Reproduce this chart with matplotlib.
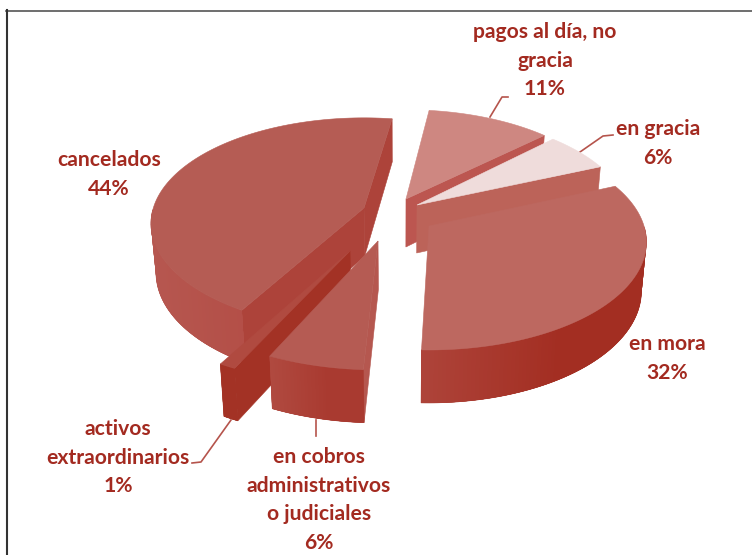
import numpy as np
import matplotlib
matplotlib.use("Agg")
import matplotlib.pyplot as plt
from matplotlib.colors import to_rgb
from matplotlib.patches import Polygon

# shares in clockwise drawing order, starting at start_angle
categories = ["en mora", "en cobros", "activos", "cancelados", "pagos", "en gracia"]
values = [32, 6, 1, 44, 11, 6]
start_angle = 23.0

label_lines = [
    ["en mora", "32%"],
    ["en cobros", "administrativos", "o judiciales", "6%"],
    ["activos", "extraordinarios", "1%"],
    ["cancelados", "44%"],
    ["pagos al día, no", "gracia", "11%"],
    ["en gracia", "6%"],
]
label_x = [667, 319, 118, 109, 545, 658]
label_y = [344, 457, 429, 160, 32, 129]
line_step = 28.6

# where each exploded slice has its tip, its size and a small turn
apex_x = [429, 378, 350, 364, 406, 417]
apex_y = [226, 241, 251, 208, 199, 205]
slice_scale = [1.0, 1.04, 1.07, 0.98, 0.97, 0.98]
slice_turn = [0.5, -1.0, -2.0, -3.0, -1.5, 0.0]

top_colors = ["#BD6860", "#B55B53", "#B04A40", "#B55C54", "#CE8781", "#EFDCDB"]
wall_colors = ["#A53024", "#B5574F", "#A33225", "#AD433A", "#BC5650", "#BC6359"]
rim_left = ["#AE443A", "#B04A40", "#A33225", "#B65750", "#BC5650", "#BC6359"]
rim_right = ["#A32E22", "#A93A30", "#A33225", "#B24A42", "#BC5650", "#BC6359"]

# leader lines
leaders = [
    [(490, 117), (502, 97), (508, 97)],
    [(580, 152), (603, 136), (613, 135)],
    [(231, 420), (201, 462), (192, 463)],
    [(316, 420), (316, 436)],
]

text_color = "#A32A20"
leader_color = "#B5544C"

RX, RY, PERSP = 215.0, 105.6, 0.148
DEPTH, DEPTH_TILT, CONVERGE, VANISH_X = 48.0, 5.0, 0.02, 400.0


def project(ax_, ay_, scale, theta, r=1.0):
    # ground plane to screen with a little perspective, y grows downward
    gx = r * np.cos(theta)
    gy = r * np.sin(theta)
    w = 1 + PERSP * gy
    return ax_ + scale * RX * gx / w, ay_ - scale * RY * gy / w, gy


def drop(x, y, gy):
    # same point on the underside of the slice
    return x + (VANISH_X - x) * CONVERGE, y + DEPTH - DEPTH_TILT * gy


def face(ax, pts, color, z, lw=0.4):
    ax.add_patch(Polygon(pts, closed=True, facecolor=color, edgecolor=color if lw else "none",
                         lw=lw, zorder=z))


fig = plt.figure(figsize=(7.52, 5.55), dpi=100)
ax = fig.add_axes([0, 0, 1, 1])
ax.set_xlim(0, 752)
ax.set_ylim(555, 0)
ax.axis("off")

# outer frame, only top and left edges fall inside the canvas
ax.plot([6, 752], [10.5, 10.5], color="#555555", lw=1.2, zorder=1)
ax.plot([6.5, 6.5], [10, 555], color="#333333", lw=1.5, zorder=1)

fractions = np.array(values) / sum(values)
ends = start_angle - np.cumsum(fractions) * 360
starts = ends + fractions * 360

# back to front
draw_order = [3, 2, 1, 4, 5, 0]
for z, i in enumerate(draw_order):
    zbase = 10 + z * 10
    a0, a1 = np.radians(starts[i] + slice_turn[i]), np.radians(ends[i] + slice_turn[i])
    thetas = np.linspace(a0, a1, 120)
    x, y, g = project(apex_x[i], apex_y[i], slice_scale[i], thetas)
    bx, by = drop(x, y, g)
    tipb = drop(apex_x[i], apex_y[i], 0.0)

    # cut faces, only those turned toward the viewer
    mid = len(thetas) // 2
    for k in (0, -1):
        dx, dy = x[k] - apex_x[i], y[k] - apex_y[i]
        inner = dx * (y[mid] - apex_y[i]) - dy * (x[mid] - apex_x[i])
        if dx * inner < 0:
            face(ax, [(apex_x[i], apex_y[i]), (x[k], y[k]), (bx[k], by[k]), tipb],
                 wall_colors[i], zbase + 1)

    # rim: flat base, then overlapping bands shaded along the arc
    c_right, c_left = np.array(to_rgb(rim_right[i])), np.array(to_rgb(rim_left[i]))
    front = np.where(np.sin(thetas) <= 0)[0]
    if len(front) > 1:
        rim = list(zip(x[front], y[front])) + list(zip(bx[front][::-1], by[front][::-1]))
        face(ax, rim, rim_right[i], zbase + 2)
        lo, hi = x.min(), x.max()
        for j in range(len(front) - 1):
            k0 = front[j]
            k1 = front[min(j + 3, len(front) - 1)]
            t = (x[k0] - lo) / max(hi - lo, 1)
            col = c_left + (c_right - c_left) * min(t * 1.6, 1)
            face(ax, [(x[k0], y[k0]), (x[k1], y[k1]), (bx[k1], by[k1]), (bx[k0], by[k0])],
                 tuple(col), zbase + 2, lw=0)

    top = [(apex_x[i], apex_y[i])] + list(zip(x, y))
    face(ax, top, top_colors[i], zbase + 3)

for pts in leaders:
    ax.plot([p[0] for p in pts], [p[1] for p in pts], color=leader_color, lw=1.2, zorder=5)

for lines, lx, ly in zip(label_lines, label_x, label_y):
    for n, line in enumerate(lines):
        ax.text(lx, ly + n * line_step, line, ha="center", va="center", fontsize=15.2,
                fontweight="bold", family=["Lato", "DejaVu Sans"], color=text_color, zorder=100)

fig.savefig("out.png", dpi=100)
